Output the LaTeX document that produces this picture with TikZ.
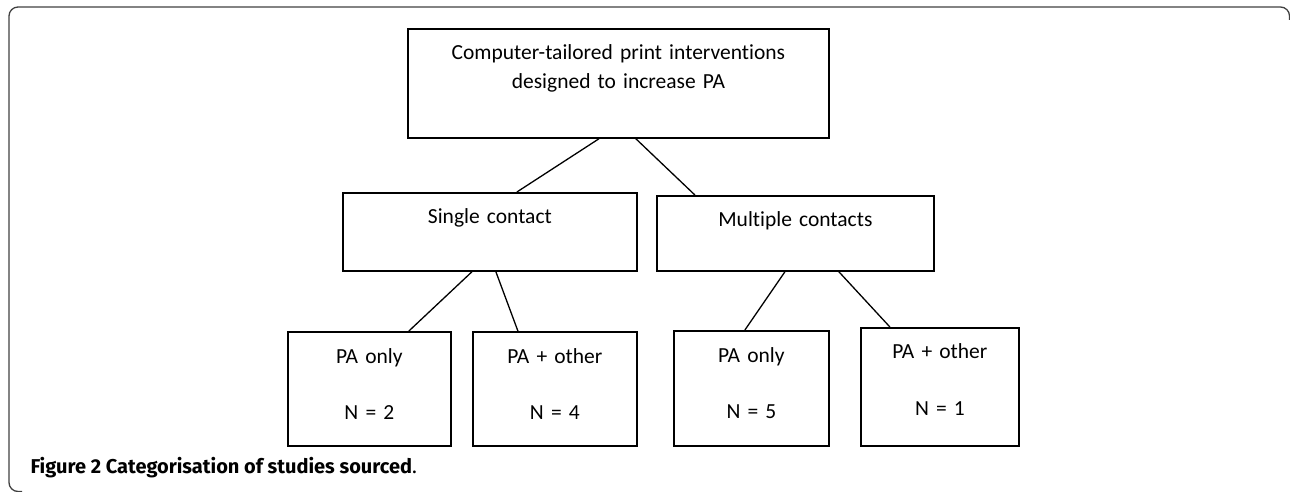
\documentclass[tikz,border=0pt]{standalone}
\usepackage{fontspec}
\setmainfont[Ligatures=NoCommon]{Carlito}
\newfontfamily\capfont{Fira Sans}
\usepackage{tikz}

\begin{document}
\begin{tikzpicture}[x=1pt,y=-1pt,
        box/.style={draw,line width=1.8pt,inner sep=0pt,anchor=north west,align=center,font=\fontsize{21.5}{29}\selectfont},
        link/.style={line width=1.3pt}]
        \useasboundingbox (0,0) rectangle (1290,492);
        \draw[line width=1.3pt,black!75,rounded corners=9pt] (22,491.5) -- (9,491.5) -- (9,7) -- (1289.5,7) -- (1289.5,20);
        \node[box,text width=421pt,text height=31pt,text depth=78pt] (top) at (407,28) {Computer-tailored print interventions\\designed to increase PA};
        \node[box,text width=294pt,text height=31pt,text depth=47pt] (single) at (342,192) {Single contact};
        \node[box,text width=277pt,text height=31pt,text depth=44pt] (multi) at (656,195) {Multiple contacts};
        \node[box,text width=163pt,text height=32pt,text depth=82pt] (sonly) at (287,331) {PA only\\[27pt]N = 2};
        \node[box,text width=164pt,text height=32pt,text depth=82pt] (sother) at (472,331) {PA + other\\[27pt]N = 4};
        \node[box,text width=155pt,text height=32pt,text depth=83pt] (monly) at (673,330) {PA only\\[27pt]N = 5};
        \node[box,text width=158pt,text height=31pt,text depth=87pt] (mother) at (860,327) {PA + other\\[28pt]N = 1};
        \draw[link] ([xshift=-19.5pt]top.south) -- ([xshift=27pt]single.north);
        \draw[link] ([xshift=17.5pt]top.south) -- ([xshift=-100.5pt]multi.north);
        \draw[link] ([xshift=-18pt]single.south) -- ([xshift=39.5pt]sonly.north);
        \draw[link] ([xshift=6pt]single.south) -- ([xshift=-37pt]sother.north);
        \draw[link] ([xshift=-10.5pt]multi.south) -- ([xshift=-6.5pt]monly.north);
        \draw[link] ([xshift=43.5pt]multi.south) -- ([xshift=-50pt]mother.north);
        \node[anchor=base west,font=\capfont\fontsize{20}{22}\selectfont] (cap) at (27,473) {\textbf{Figure 2 Categorisation of studies sourced}.};
    \end{tikzpicture}
\end{document}
